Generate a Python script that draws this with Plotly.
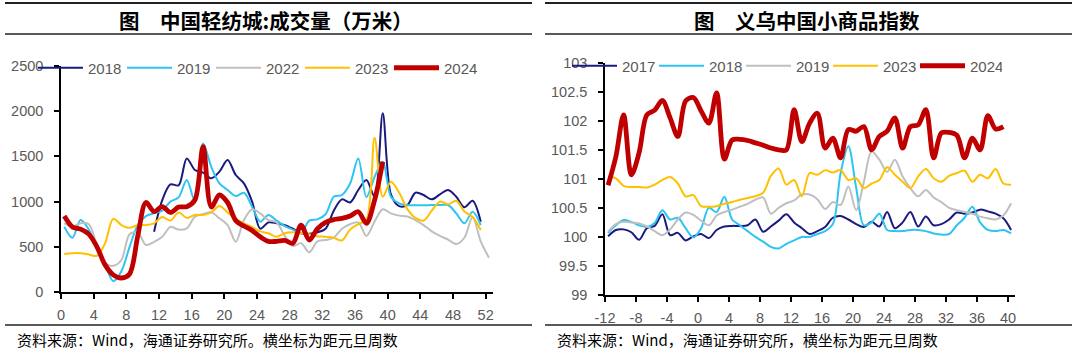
import plotly.graph_objects as go

# ---------------- Left panel: 中国轻纺城 成交量（万米） ----------------
L_2018_weeks = [w + 0.4 for w in range(11, 52)]
L_2018 = [667, 1017, 1190, 1180, 1478, 1349, 1320, 1257, 1331, 1460, 1294, 1202, 1000, 700, 770,
          760, 740, 700, 650, 645, 660, 700, 900, 1025, 990, 1128, 1239, 1054, 1976, 1080, 950,
          960, 1098, 1073, 1025, 1080, 1128, 1054, 937, 1010, 778]

L_2019_weeks = [w + 0.4 for w in range(0, 52)]
L_2019 = [722, 600, 796, 690, 480, 300, 120, 230, 500, 740, 840, 870, 900, 1000, 1047, 1239, 1000,
          1644, 1386, 1202, 1128, 1062, 1098, 944, 778, 852, 790, 730, 690, 650, 790, 804, 860,
          1054, 1073, 1200, 1478, 1050, 1275, 1441, 1054, 981, 962, 960, 960, 962, 962, 962, 870,
          760, 888, 741]

L_2022_weeks = [w + 0.4 for w in range(0, 53)]
L_2022 = [762, 722, 760, 750, 520, 320, 290, 354, 640, 660, 520, 555, 610, 720, 690, 704, 833,
          862, 881, 815, 741, 556, 796, 915, 870, 796, 770, 620, 510, 540, 440, 560, 575, 600,
          700, 750, 770, 620, 780, 915, 870, 845, 835, 796, 740, 670, 620, 580, 530, 600, 830,
          560, 380]

L_2023_weeks = [w + 0.4 for w in range(0, 52)]
L_2023 = [420, 430, 430, 415, 400, 540, 810, 741, 710, 740, 740, 760, 830, 790, 880, 820, 852,
          852, 880, 950, 880, 810, 760, 720, 670, 650, 610, 650, 660, 650, 640, 615, 612, 600,
          570, 690, 750, 800, 1707, 1054, 1220, 1100, 920, 820, 790, 900, 1000, 970, 1010, 890,
          830, 686]

L_2024_weeks = [w + 0.4 for w in range(0, 40)]
L_2024 = [840, 720, 695, 640, 500, 300, 190, 155, 200, 620, 990, 890, 944, 880, 940, 944, 1017,
          1607, 940, 1073, 990, 790, 730, 680, 610, 560, 560, 570, 540, 740, 575, 700, 770, 800,
          815, 840, 888, 760, 1017, 1441]

L_TICKS = list(range(0, 53, 4))

# ---------------- Right panel: 义乌中国小商品指数 ----------------
R_weeks_53 = [w + 0.4 for w in range(-12, 41)]
R_weeks_52 = [w + 0.4 for w in range(-12, 40)]

R_2017 = [100.01, 100.12, 100.13, 100.08, 99.95, 100.15, 100.19, 100.39, 100.03, 100.07, 99.94,
          100.01, 100.05, 99.98, 100.12, 100.18, 100.19, 100.19, 100.2, 100.3, 100.09, 100.18,
          100.28, 100.39, 100.25, 100.15, 100.05, 100.1, 100.17, 100.33, 100.36, 100.3, 100.22,
          100.17, 100.26, 100.18, 100.43, 100.15, 100.25, 100.43, 100.18, 100.35, 100.2, 100.22,
          100.3, 100.42, 100.4, 100.42, 100.47, 100.44, 100.4, 100.32, 100.12]
R_2018 = [100.07, 100.2, 100.29, 100.26, 100.2, 100.17, 100.24, 100.46, 100.3, 100.33, 100.15,
          99.99, 100.15, 100.5, 100.43, 100.69, 100.3, 100.2, 100.1, 100.0, 99.92, 99.83, 99.8,
          99.88, 99.94, 100.0, 100.0, 100.05, 100.1, 100.22, 101.1, 101.56, 100.85, 100.2,
          100.25, 100.4, 100.12, 100.1, 100.1, 100.12, 100.12, 100.1, 100.06, 100.04, 100.05,
          100.2, 100.33, 100.52, 100.25, 100.12, 100.1, 100.12, 100.06]
R_2019 = [100.09, 100.22, 100.26, 100.25, 100.23, 100.18, 100.1, 100.03, 100.13, 100.3, 100.42,
          100.38, 100.28, 100.2, 100.37, 100.43, 100.47, 100.52, 100.57, 100.64, 100.68, 100.4,
          100.5, 100.58, 100.63, 100.73, 100.73, 100.65, 100.48, 100.6, 100.55, 100.87, 100.46,
          100.95, 101.47, 101.33, 101.12, 101.33, 101.04, 100.84, 100.7, 100.81, 100.68, 100.6,
          100.5, 100.46, 100.43, 100.4, 100.35, 100.32, 100.3, 100.37, 100.58]
R_2023 = [101.04, 101.01, 100.88, 100.86, 100.86, 100.85, 100.9, 100.98, 101.03, 100.92, 100.7,
          100.72, 100.53, 100.52, 100.53, 100.57, 100.6, 100.64, 100.67, 100.7, 100.76, 101.05,
          101.18, 100.9, 100.98, 100.7, 101.1, 101.07, 101.15, 101.11, 101.15, 100.98, 101.01,
          100.84, 100.92, 100.98, 101.2, 101.07, 100.95, 100.84, 101.04, 101.17, 101.01, 100.95,
          101.05, 101.1, 101.14, 100.95, 101.07, 101.01, 101.17, 100.92, 100.9]
R_2024 = [100.89, 101.38, 102.1, 101.07, 101.45, 102.1, 102.18, 102.35, 102.05, 101.73, 102.34,
          102.4, 102.17, 101.96, 102.48, 101.34, 101.67, 101.68, 101.66, 101.62, 101.58, 101.53,
          101.5, 101.5, 102.19, 101.64, 101.96, 102.13, 101.53, 101.7, 101.36, 101.85, 101.82,
          101.9, 101.5, 101.73, 101.82, 102.05, 101.53, 101.9, 101.93, 102.19, 101.36, 101.79,
          101.8, 101.75, 101.36, 101.7, 101.5, 102.09, 101.86, 101.9]

R_TICKS = list(range(-12, 41, 4))
R_TICK_TEXT = [str(v) for v in R_TICKS]

LEFT_TITLE = "图\u3000中国轻纺城:成交量（万米）"
RIGHT_TITLE = "图\u3000义乌中国小商品指数"
LEFT_SOURCE = "资料来源：Wind，海通证券研究所。横坐标为距元旦周数"
RIGHT_SOURCE = "资料来源：Wind，海通证券研究所，横坐标为距元旦周数"

NAVY, CYAN, GRAY, GOLD, RED = "#1a1a80", "#2ec4f2", "#bfbfbf", "#ffc000", "#c00000"

W, H = 1080, 354
def px(x):
    return x / W
def py(y):
    return 1 - y / H

fig = go.Figure()

left = [("2018", L_2018_weeks, L_2018, NAVY, 2),
        ("2019", L_2019_weeks, L_2019, CYAN, 2),
        ("2022", L_2022_weeks, L_2022, GRAY, 2),
        ("2023", L_2023_weeks, L_2023, GOLD, 2),
        ("2024", L_2024_weeks, L_2024, RED, 4.8)]
for name, xs, ys, c, w in left:
    fig.add_trace(go.Scatter(x=xs, y=ys, name=name, mode="lines",
                             line=dict(color=c, width=w, shape="spline", smoothing=0.9),
                             xaxis="x", yaxis="y", legend="legend"))

right = [("2017", R_weeks_53, R_2017, NAVY, 2),
         ("2018", R_weeks_53, R_2018, CYAN, 2),
         ("2019", R_weeks_53, R_2019, GRAY, 2),
         ("2023", R_weeks_53, R_2023, GOLD, 2),
         ("2024", R_weeks_52, R_2024, RED, 4.8)]
for name, xs, ys, c, w in right:
    fig.add_trace(go.Scatter(x=xs, y=ys, name=name, mode="lines",
                             line=dict(color=c, width=w, shape="spline", smoothing=0.9),
                             xaxis="x2", yaxis="y2", legend="legend2"))

tickfont = dict(family="Liberation Sans, Arial, sans-serif", size=14.5, color="#595959")
axis_common = dict(showline=True, linecolor="#000000", linewidth=1.5, ticks="outside",
                   ticklen=5, tickwidth=1.5, tickcolor="#000000", showgrid=False,
                   zeroline=False, tickfont=tickfont, automargin=False)
legend_font = dict(family="Liberation Sans, Arial, sans-serif", size=15, color="#595959")

fig.update_layout(
    width=W, height=H, margin=dict(l=0, r=0, t=0, b=0, autoexpand=False),
    paper_bgcolor="white", plot_bgcolor="white", showlegend=True,
    xaxis=dict(domain=[px(61), px(493)], range=[0, 52.9], tickmode="array", tickvals=L_TICKS,
               anchor="y", ticklabelstandoff=4, **axis_common),
    yaxis=dict(domain=[py(292), py(66)], range=[0, 2500], dtick=500, anchor="x",
               ticklabelstandoff=8, **axis_common),
    xaxis2=dict(domain=[px(605), px(1015)], range=[-12, 40.9], tickmode="array",
                tickvals=R_TICKS, ticktext=R_TICK_TEXT, anchor="y2",
                ticklabelstandoff=4, **axis_common),
    yaxis2=dict(domain=[py(295), py(62.7)], range=[99, 103], dtick=0.5, anchor="x2",
                ticklabelstandoff=8, **axis_common),
    legend=dict(orientation="h", x=px(33), y=py(68), xanchor="left", yanchor="middle",
                bgcolor="rgba(0,0,0,0)", font=legend_font, entrywidth=29, itemwidth=45,
                entrywidthmode="pixels", traceorder="normal"),
    legend2=dict(orientation="h", x=px(567), y=py(66), xanchor="left", yanchor="middle",
                 bgcolor="rgba(0,0,0,0)", font=legend_font, entrywidth=27, itemwidth=45,
                 entrywidthmode="pixels", traceorder="normal"),
)

shapes = []
for x0, x1 in [(5, 532), (545, 1072)]:
    shapes.append(dict(type="line", xref="paper", yref="paper", x0=px(x0), x1=px(x1),
                       y0=py(3), y1=py(3), line=dict(color="#222222", width=2)))
    shapes.append(dict(type="line", xref="paper", yref="paper", x0=px(x0), x1=px(x1),
                       y0=py(34), y1=py(34), line=dict(color="#222222", width=1.5)))
    shapes.append(dict(type="line", xref="paper", yref="paper", x0=px(x0), x1=px(x1),
                       y0=py(325), y1=py(325), line=dict(color="#222222", width=1.5)))
fig.update_layout(shapes=shapes)

title_font = dict(family="Noto Sans CJK SC", size=20.5, color="#000000", weight="bold")
src_font = dict(family="Noto Sans CJK SC", size=15, color="#000000")
annos = [
    dict(text=LEFT_TITLE, x=px(266), y=py(20), xref="paper", yref="paper", showarrow=False,
         xanchor="center", yanchor="middle", font=title_font),
    dict(text=RIGHT_TITLE, x=px(807), y=py(20), xref="paper", yref="paper", showarrow=False,
         xanchor="center", yanchor="middle", font=title_font),
    dict(text=LEFT_SOURCE, x=px(15), y=py(339), xref="paper", yref="paper", showarrow=False,
         xanchor="left", yanchor="middle", font=src_font),
    dict(text=RIGHT_SOURCE, x=px(555), y=py(339), xref="paper", yref="paper", showarrow=False,
         xanchor="left", yanchor="middle", font=src_font),
]
fig.update_layout(annotations=annos)

fig.write_html("out.html")
